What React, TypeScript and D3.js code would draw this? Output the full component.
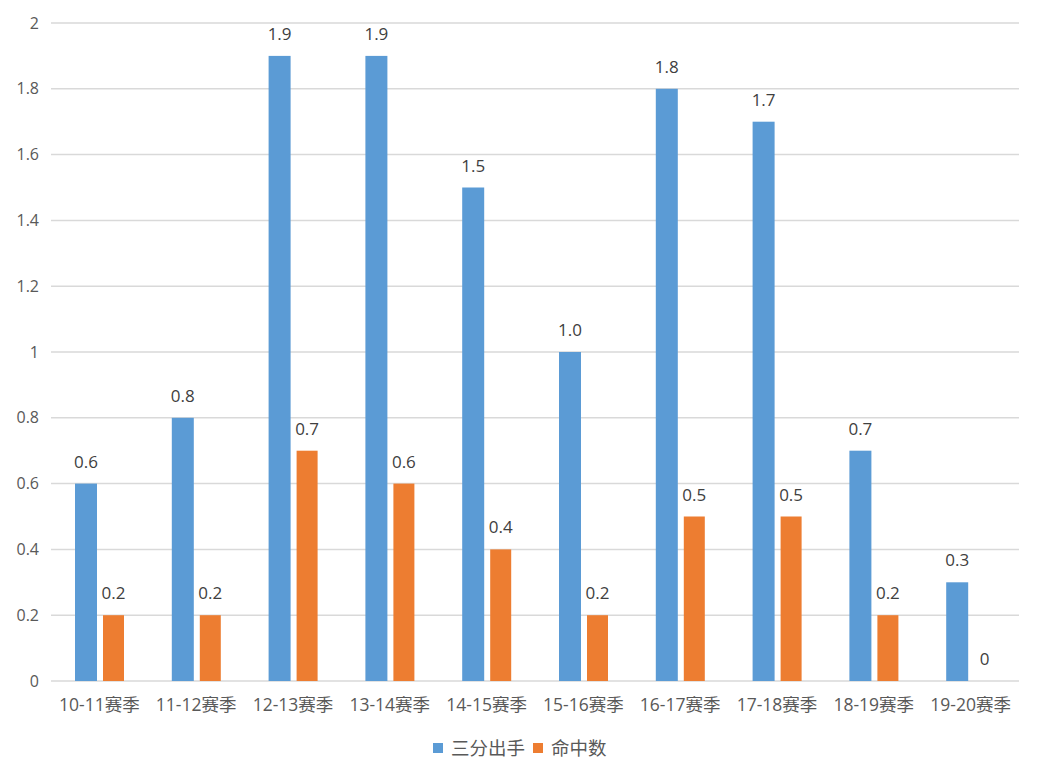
import React from "react";
import * as d3 from "d3";

const categories = ["10-11赛季", "11-12赛季", "12-13赛季", "13-14赛季", "14-15赛季", "15-16赛季", "16-17赛季", "17-18赛季", "18-19赛季", "19-20赛季"];
const attempts = [0.6, 0.8, 1.9, 1.9, 1.5, 1.0, 1.8, 1.7, 0.7, 0.3];
const made = [0.2, 0.2, 0.7, 0.6, 0.4, 0.2, 0.5, 0.5, 0.2, 0];
const attemptLabels = ["0.6", "0.8", "1.9", "1.9", "1.5", "1.0", "1.8", "1.7", "0.7", "0.3"];
const madeLabels = ["0.2", "0.2", "0.7", "0.6", "0.4", "0.2", "0.5", "0.5", "0.2", "0"];
const yTicks = [0, 0.2, 0.4, 0.6, 0.8, 1, 1.2, 1.4, 1.6, 1.8, 2];
const seriesNames = ["三分出手", "命中数"];
const colors = ["#5b9bd5", "#ed7d31"];

const W = 1042, H = 782;
const left = 51, right = 1019, top = 23, bottom = 681;
const font = "'Open Sans', 'Noto Sans CJK SC', sans-serif";

export default function App() {
  const x = d3.scaleBand<string>().domain(categories).range([left, right]);
  const y = d3.scaleLinear().domain([0, 2]).range([bottom, top]);
  const bw = 22;
  const textColor = "#595959";
  return (
    <svg width={W} height={H} style={{ position: "absolute", left: 0, top: 0 }}>
      <rect width={W} height={H} fill="#fff" />
      {yTicks.map((t) => (
        <g key={t}>
          <line x1={left} x2={right} y1={y(t)} y2={y(t)} stroke="#d9d9d9" strokeWidth={1.5} />
          <text x={39} y={y(t)} dy="0.35em" textAnchor="end" fontSize={16} fill={textColor} fontFamily={font}>
            {String(t)}
          </text>
        </g>
      ))}
      {categories.map((c, i) => {
        const x0 = x(c)!;
        const bx = x0 + 24;
        const ox = x0 + 52;
        return (
          <g key={c}>
            <rect x={bx} y={y(attempts[i])} width={bw} height={bottom - y(attempts[i])} fill={colors[0]} />
            <rect x={ox} y={y(made[i])} width={bw - 1} height={bottom - y(made[i])} fill={colors[1]} />
            <text x={bx + bw / 2} y={y(attempts[i]) - 16} textAnchor="middle" fontSize={17} fill="#404040" fontFamily={font}>
              {attemptLabels[i]}
            </text>
            <text x={ox + (bw - 1) / 2} y={y(made[i]) - 16} textAnchor="middle" fontSize={17} fill="#404040" fontFamily={font}>
              {madeLabels[i]}
            </text>
            <text x={x0 + x.bandwidth() / 2} y={711} textAnchor="middle" fontSize={17.5} fill={textColor} fontFamily={font}>
              {c}
            </text>
          </g>
        );
      })}
      <g>
        <rect x={433} y={743} width={10} height={10} fill={colors[0]} />
        <text x={451} y={755} fontSize={18.5} fill={textColor} fontFamily={font}>{seriesNames[0]}</text>
        <rect x={533} y={743} width={10} height={10} fill={colors[1]} />
        <text x={551} y={755} fontSize={18.5} fill={textColor} fontFamily={font}>{seriesNames[1]}</text>
      </g>
    </svg>
  );
}
